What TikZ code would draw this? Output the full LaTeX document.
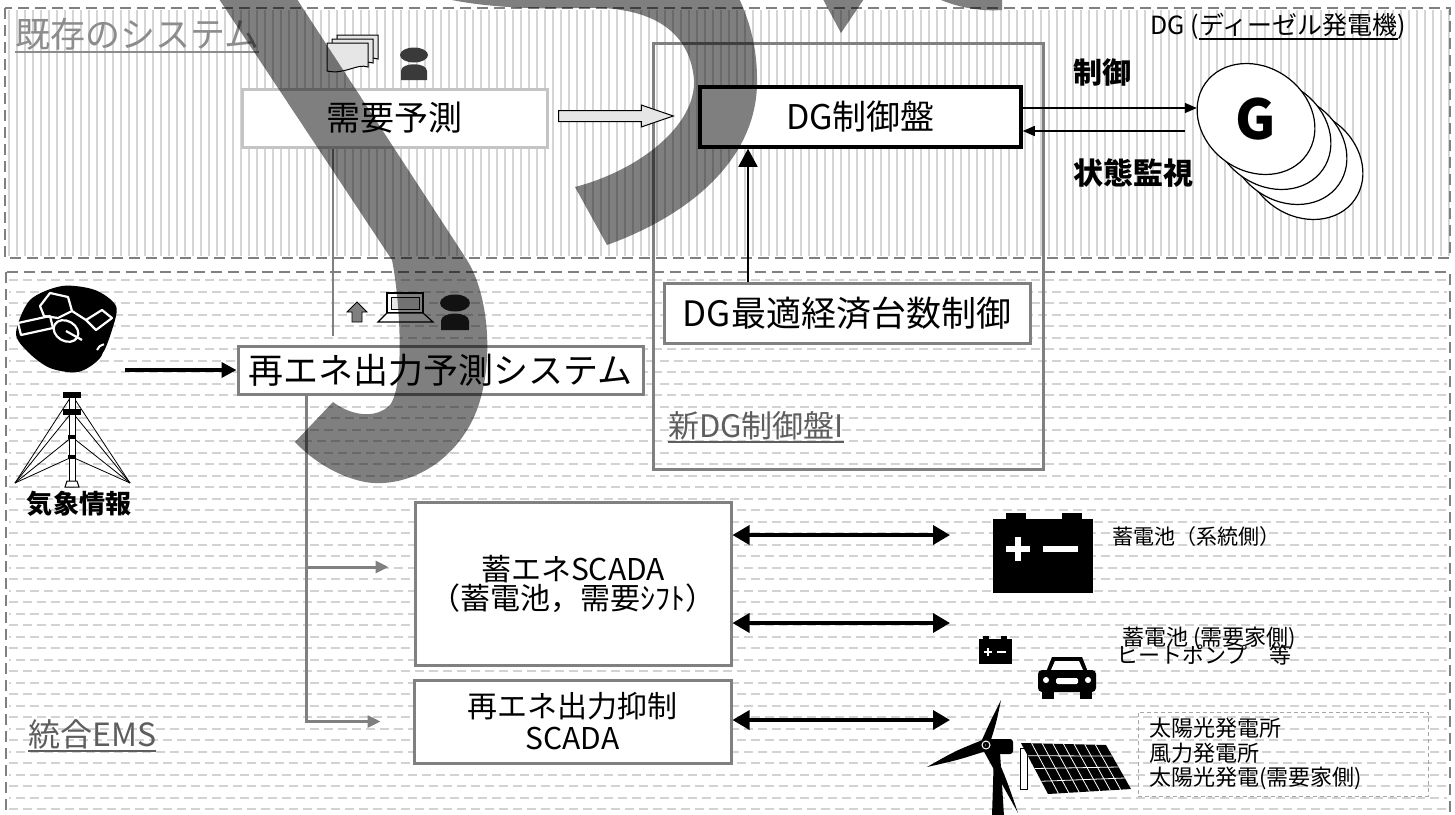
\documentclass[tikz,border=0pt]{standalone}
\usepackage{fontspec}
\setmainfont{Noto Sans CJK JP}
\usetikzlibrary{arrows.meta,calc}
\definecolor{edgegray}{HTML}{808080}
\definecolor{paleedge}{HTML}{C4C4C4}
\definecolor{stripegray}{HTML}{D5D5D5}
\definecolor{dashgray}{HTML}{D2D2D2}
\definecolor{titlegray}{HTML}{8C8C8C}
\definecolor{labelgray}{HTML}{5E5E5E}
\definecolor{sheetgray}{HTML}{E6E6E6}
\definecolor{persongray}{HTML}{3A3A3A}
\newcommand\setfs[2]{\fontsize{#1}{#2}\selectfont}

\begin{document}
\begin{tikzpicture}[x=1pt,y=-1pt,
  region/.style={draw=edgegray,line width=2.5pt,dash pattern=on 11pt off 6pt},
  sysbox/.style={draw=edgegray,line width=3pt,fill=white,inner sep=0pt,align=center},
  wire/.style={draw=edgegray,line width=2.5pt},
  wirearrow/.style={draw=edgegray,line width=3pt,-{Triangle[length=13pt,width=12pt]}},
  thinarrow/.style={line width=1.5pt,-{Triangle[length=12pt,width=10pt]}},
  linkarrow/.style={line width=3.5pt,{Triangle[length=17pt,width=19pt]}-{Triangle[length=17pt,width=19pt]}},
  whitestroke/.style={draw=white,line width=2.2pt,line join=round},
  label/.style={inner sep=0pt},
  shade/.style={fill=black,fill opacity=0.5},
]
\useasboundingbox (0,0) rectangle (1455,814);
\clip (0,0) rectangle (1455,814);
\fill[white] (0,0) rectangle (1455,814);

% striped background of the existing system
\foreach \x in {9,17,...,1449}
  \draw[stripegray,line width=2.5pt] (\x,10) -- (\x,256);
% dashed rows behind the integrated EMS
\foreach \y in {280,303,...,814}
  \draw[dashgray,line width=2pt,dash pattern=on 9pt off 5pt] (9,\y) -- (1447,\y);
\foreach \y in {291.5,314.5,...,814}
  \draw[dashgray,line width=2pt,dash pattern=on 9pt off 5pt,dash phase=7pt] (9,\y) -- (1447,\y);

% the two system regions
\draw[region] (5,8) rectangle (1450,258);
\draw[region] (6,272) rectangle (1450,840);

% new DG control panel enclosure
\node[draw=edgegray,line width=3pt,minimum width=390,minimum height=426,inner sep=0pt] (newdg) at (848,256) {};

% system boxes
\node[sysbox,draw=paleedge,minimum width=305,minimum height=58,font=\setfs{34}{34}] (demand) at (394.5,118) {需要予測};
\node[sysbox,draw=black,line width=3.5pt,minimum width=321,minimum height=60,font=\setfs{34}{34}] (dgpanel) at (860.5,117) {DG制御盤};
\node[sysbox,minimum width=366,minimum height=60,font=\setfs{35}{35}] (dgopt) at (847,313) {DG最適経済台数制御};
\node[sysbox,minimum width=405,minimum height=48,font=\setfs{35}{35}] (reforecast) at (440.5,370) {再エネ出力予測システム};
\node[sysbox,minimum width=316,minimum height=163,font=\setfs{30}{29}] (storage) at (573,583.5) {蓄エネSCADA\\（蓄電池，需要ｼﾌﾄ）};
\node[sysbox,minimum width=317,minimum height=83,font=\setfs{30}{32}] (curtail) at (572.5,721.5) {再エネ出力抑制\\SCADA};

% diesel generators
\foreach \k in {3,2,1,0}
  \draw[fill=white,line width=1.2pt,rotate around={-35:(1256+16*\k,119+15*\k)}] (1256+16*\k,119+15*\k) ellipse (62 and 52);
\node[circle,minimum size=118,inner sep=0pt,font=\bfseries\setfs{55}{55}] (gen) at (1256,119) {G};

% region and panel labels
\node[label,anchor=base west,font=\setfs{35}{35},text=titlegray] (exist) at (15,47) {既存のシステム};
\draw[titlegray,line width=1.5pt] ($(exist.base west)+(0,5)$) -- ($(exist.base east)+(0,5)$);
\node[label,anchor=base west,font=\setfs{31}{31},text=labelgray] (newlbl) at (668,437) {新DG制御盤I};
\draw[labelgray,line width=1.5pt] ($(newlbl.base west)+(0,5)$) -- ($(newlbl.base east)+(0,5)$);
\node[label,anchor=base west,font=\setfs{32}{32},text=labelgray] (emslbl) at (28,746) {統合EMS};
\draw[labelgray,line width=1.5pt] ($(emslbl.base west)+(0,5)$) -- ($(emslbl.base east)+(0,5)$);

\node[label,anchor=base west,font=\setfs{25}{25}] (dgA) at (1150,34) {DG (};
\node[label,anchor=base west,font=\setfs{25}{25}] (dgB) at (dgA.base east) {ディーゼル発電機};
\node[label,anchor=base west,font=\setfs{25}{25}] (dgC) at (dgB.base east) {)};
\draw[line width=1.3pt] ($(dgB.base west)+(0,5)$) -- ($(dgB.base east)+(0,5)$);

\node[label,font=\bfseries\setfs{29}{29}] (ctrl) at (1102,72) {制御};
\node[label,font=\bfseries\setfs{30}{30}] (mon) at (1133,173) {状態監視};
\node[label,font=\bfseries\setfs{26}{26}] (wxlbl) at (79,504) {気象情報};

% connectors in the existing system
\coordinate (lx) at (333,0);
\draw[wire,shorten >=9pt] (demand.south -| lx) -- (reforecast.north -| lx);
\coordinate (ha) at ($(demand.east)+(10,-2)$);
\coordinate (hb) at ($(dgpanel.west)+(-25,-1)$);
\draw[fill=sheetgray,line width=1pt] ($(ha)+(0,-5.5)$) -- ($(hb)+(-32,-5.5)$) -- ($(hb)+(-32,-11)$) -- (hb)
  -- ($(hb)+(-32,11)$) -- ($(hb)+(-32,5.5)$) -- ($(ha)+(0,5.5)$) -- cycle;
\coordinate (vx) at (748,0);
\draw[line width=1.8pt,-{Triangle[length=18pt,width=19pt]}] (dgopt.north -| vx) -- (dgpanel.south -| vx);
\draw[thinarrow] ($(dgpanel.east)+(0,-9)$) -- ($(gen.west)+(0,-11)$);
\draw[thinarrow] ($(gen.west)+(-12,12)$) -- ($(dgpanel.east)+(0,14)$);

% weather input
\node[minimum width=112,minimum height=10,inner sep=0pt] (wx) at (69,370) {};
\draw[line width=3.5pt,-{Triangle[length=15pt,width=15pt]}] (wx.east) -- (reforecast.west);

% forecast distribution to the SCADA systems
\coordinate (bx) at (306,0);
\draw[wirearrow,shorten >=32pt] (reforecast.south -| bx) |- (curtail.west);
\draw[wirearrow,shorten >=25pt] (bx |- 0,567) -- (storage.west |- 0,567);

% links to field equipment
\coordinate (gb) at (950,535);
\coordinate (db) at (950,623);
\coordinate (rb) at (950,720);
\draw[linkarrow] ($(storage.east)+(0,-48.5)$) -- (gb);
\draw[linkarrow] ($(storage.east)+(0,39.5)$) -- (db);
\draw[linkarrow] (curtail.east |- rb) -- (rb);

% equipment labels
\node[label,anchor=west,font=\setfs{21}{21}] (gridlbl) at (1112,537) {蓄電池（系統側）};
\node[label,anchor=west,font=\setfs{22}{22}] (homelbl) at (1122,638) {蓄電池 (需要家側)};
\node[label,anchor=west,font=\setfs{22}{22}] (hplbl) at (1116,655) {ヒートポンプ　等};
\node[draw=edgegray!70,dash pattern=on 4pt off 3pt,line width=1pt,minimum width=290,minimum height=84,inner sep=0pt] (plantbox) at (1283,754) {};
\node[label,anchor=west,align=left,font=\setfs{22}{24.5}] (plants) at (1149,754) {太陽光発電所\\風力発電所\\太陽光発電(需要家側)};

% document stack icon
\foreach \dx/\dy in {10/-8,5/-4,0/0}
  \draw[fill=sheetgray,line width=1pt,shift={(327+\dx,43+\dy)}] (0,0) -- (41,0) -- (41,24)
    .. controls (30,20) and (18,32) .. (0,28) -- cycle;
% operator icons
\fill[persongray] (414,55) ellipse (14 and 7.5);
\fill[persongray] (401,80) -- (401,71) .. controls (401,62) and (427,62) .. (427,71) -- (427,80) -- cycle;
\fill[black!85] (455,303) ellipse (15 and 8.5);
\fill[black!85] (441,330) -- (441,321) .. controls (441,311) and (469,311) .. (469,321) -- (469,330) -- cycle;
% upload arrow and laptop
\draw[fill=edgegray,line width=0.8pt] (352,322) -- (352,312) -- (347,312) -- (357,302) -- (367,312) -- (362,312) -- (362,322) -- cycle;
\draw[fill=white,line width=1.2pt] (387,293) rectangle (423,313);
\draw[fill=sheetgray,line width=0.8pt] (391,297) rectangle (419,309);
\draw[fill=white,line width=1.2pt] (387,313) -- (423,313) -- (433,322) -- (378,322) -- cycle;

% weather satellite
\fill[black] plot[smooth cycle] coordinates {(16,333) (30,300) (62,286) (95,290) (116,306) (112,330) (100,358) (78,372) (50,368) (28,352)};
\draw[whitestroke] (18,323) -- (50,316) -- (53,328) -- (21,335) -- cycle;
\draw[whitestroke] (40,306) -- (50,293) -- (68,297) -- (72,311) -- (58,318) -- (44,316) -- cycle;
\draw[whitestroke] (86,320) -- (102,310) -- (112,318) -- (96,330) -- cycle;
\draw[whitestroke,rotate around={-30:(66,331)}] (66,331) ellipse (13 and 10);
\draw[whitestroke] (66,331) -- (82,340);
\draw[whitestroke] (72,311) -- (86,320);
\draw[white,line width=2pt] (97,350) arc[start angle=200,end angle=260,radius=9];
\draw[white,line width=2pt] (103,355) arc[start angle=200,end angle=260,radius=10];

% weather mast
\foreach \h in {395,412,437,457}
  \draw[line width=0.8pt] (72,\h) -- (15,483) (72,\h) -- (130,483);
\draw[line width=1pt,fill=white] (69,394) rectangle (75,481);
\draw[line width=1pt,fill=white] (67,481) -- (77,481) -- (79,487) -- (65,487) -- cycle;
\fill (63,392) rectangle (81,398);
\fill (63,409) rectangle (81,415);
\fill (68,435) rectangle (76,439);
\fill (68,455) rectangle (76,459);

% grid battery
\fill (993,519) rectangle (1093,593);
\fill (1006,513) rectangle (1026,520);
\fill (1062,513) rectangle (1082,520);
\fill[white] (1006,546) rectangle (1030,552);
\fill[white] (1015,537) rectangle (1021,561);
\fill[white] (1043,546) rectangle (1078,552);
% customer battery
\fill (979,639) rectangle (1012,664);
\fill (983,636) rectangle (989,640);
\fill (1001,636) rectangle (1007,640);
\fill[white] (984,651) rectangle (992,653);
\fill[white] (987,648) rectangle (989,656);
\fill[white] (997,651) rectangle (1006,653);
% car
\fill (1046,672) -- (1052,657) -- (1082,657) -- (1088,672) -- cycle;
\fill[white] (1051,670) -- (1055,661) -- (1079,661) -- (1083,670) -- cycle;
\fill[rounded corners=4pt] (1038,670) rectangle (1096,692);
\fill (1042,688) rectangle (1054,699);
\fill (1080,688) rectangle (1092,699);
\fill[white] (1046,680) circle (3);
\fill[white] (1088,680) circle (3);
\fill[white,rounded corners=1.5pt] (1056,678) rectangle (1078,684);

% wind turbine
\fill (994,752) -- (1000,752) -- (1004,816) -- (992,816) -- cycle;
\fill (981,742) .. controls (990,722) .. (1001,700) .. controls (996,724) .. (989,746) -- cycle;
\fill (985,739) .. controls (955,751) .. (927,767) .. controls (958,760) .. (986,751) -- cycle;
\fill (982,748) .. controls (1000,780) .. (1018,813) .. controls (1006,778) .. (991,744) -- cycle;
\fill[rounded corners=3pt] (986,739) rectangle (1013,754);
\draw[white,line width=1pt] (986,745) circle (4);

% solar panel
\draw[fill=white,line width=1pt] (1020,748) rectangle (1027,789);
\fill (1021,743) -- (1106,745) -- (1131,789) -- (1048,794) -- cycle;
\foreach \t in {0.125,0.25,...,0.875}
  \draw[white,line width=0.8pt] ($(1021,743)!\t!(1106,745)$) -- ($(1048,794)!\t!(1131,789)$);
\foreach \t in {0.25,0.5,0.75}
  \draw[white,line width=0.8pt] ($(1021,743)!\t!(1048,794)$) -- ($(1106,745)!\t!(1131,789)$);

% translucent brush strokes laid over the diagram
\fill[shade] (213,-10) -- (291,-10) -- (467,260) .. controls (492,300) and (495,380) .. (470,425)
  .. controls (445,470) and (400,488) .. (365,482) .. controls (335,476) and (310,458) .. (295,442)
  -- (333,402) .. controls (350,415) and (375,420) .. (390,405) .. controls (405,385) and (400,300) .. (392,260) -- cycle;
\fill[shade] (420,-10) .. controls (450,5) and (520,10) .. (580,8) .. controls (650,5) and (690,30) .. (694,80)
  .. controls (696,125) and (640,170) .. (575,187) -- (607,245) .. controls (690,215) and (755,160) .. (757,85)
  .. controls (758,40) and (745,10) .. (735,-10) -- cycle;
\fill[shade] (818,-10) -- (870,-10) -- (841,33) -- cycle;
\fill[shade] (922,-10) .. controls (945,5) and (975,12) .. (1002,10) -- (1002,-10) -- cycle;
\end{tikzpicture}
\end{document}
